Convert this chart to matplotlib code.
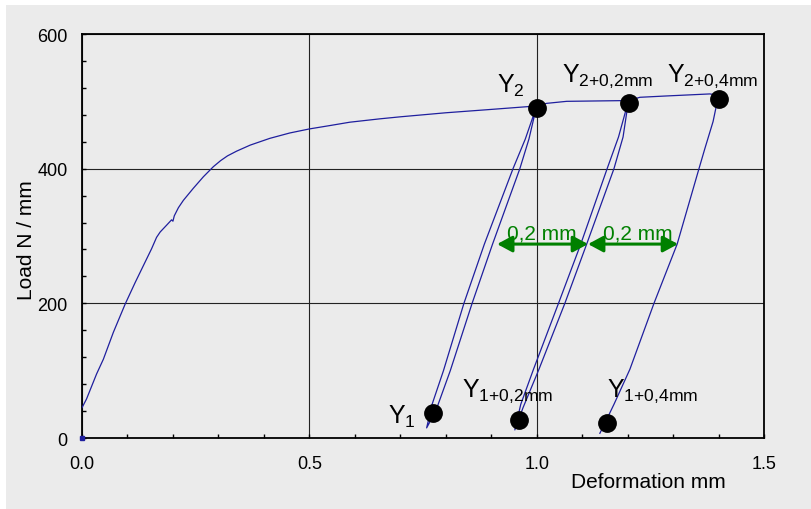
import matplotlib
matplotlib.use("Agg")
import matplotlib.pyplot as plt
from matplotlib.patches import Rectangle
from matplotlib.ticker import MultipleLocator, FormatStrFormatter

plt.rcParams['font.family'] = ['Liberation Sans', 'DejaVu Sans']

# loading curve up to the first yield point Y2
load_x = [0.000, 0.010, 0.032, 0.047, 0.069, 0.095, 0.117, 0.135, 0.153, 0.164, 0.172,
          0.186, 0.197, 0.200, 0.203, 0.212, 0.223, 0.245, 0.267, 0.289, 0.305, 0.320,
          0.340, 0.370, 0.413, 0.457, 0.500, 0.545, 0.589, 0.655, 0.700, 0.800, 0.900,
          0.978, 1.000]
load_y = [45, 58, 95, 117, 157, 199, 231, 256, 281, 298, 306,
          316, 324, 322, 330, 342, 353, 371, 388, 403, 412, 419,
          426, 435, 445, 453, 459, 464, 469, 474, 477, 483, 488,
          492, 493]

# first unload / reload loop at 1.0 mm
down1_x = [1.000, 0.975, 0.948, 0.885, 0.840, 0.795, 0.770, 0.758]
down1_y = [493, 444, 400, 288, 200, 100, 50, 15]
up1_x = [0.758, 0.778, 0.810, 0.858, 0.903, 0.963, 0.983, 1.000]
up1_y = [15, 40, 100, 200, 288, 400, 444, 493]

# plateau between the loops
plat1_x = [1.000, 1.022, 1.066, 1.183, 1.202]
plat1_y = [493, 497, 500, 501, 501]

# second loop at 1.2 mm
down2_x = [1.202, 1.180, 1.155, 1.097, 1.048, 0.993, 0.965, 0.952]
down2_y = [501, 447, 400, 288, 200, 102, 50, 12]
up2_x = [0.952, 0.970, 1.005, 1.062, 1.110, 1.170, 1.190, 1.202]
up2_y = [12, 45, 102, 200, 288, 400, 447, 501]

plat2_x = [1.202, 1.227, 1.286, 1.381, 1.400]
plat2_y = [501, 506, 508, 511, 509]

# final unloading
down3_x = [1.400, 1.388, 1.370, 1.357, 1.309, 1.258, 1.205, 1.170, 1.150, 1.139]
down3_y = [509, 470, 430, 400, 288, 200, 102, 50, 22, 7]

# marked points
pt_x = [1.000, 1.202, 1.400, 0.772, 0.962, 1.154]
pt_y = [490, 498, 503, 37, 26, 23]

pt_labels = [r'$\mathregular{Y_2}$', r'$\mathregular{Y_{2{+}0{,}2mm}}$',
             r'$\mathregular{Y_{2{+}0{,}4mm}}$', r'$\mathregular{Y_1}$',
             r'$\mathregular{Y_{1{+}0{,}2mm}}$', r'$\mathregular{Y_{1{+}0{,}4mm}}$']
lab_x = [0.913, 1.056, 1.287, 0.673, 0.836, 1.155]
lab_y = [514, 530, 530, 22, 62, 62]

# 0,2 mm offset arrows
arrow_x = [0.913, 1.113, 1.311]
arrow_y = 288
arrow_text = ['0,2 mm', '0,2 mm']
arrow_text_x = [1.012, 1.222]

bg = '#ebebeb'
fig = plt.figure(figsize=(8.11, 5.10), dpi=100)
fig.patch.set_facecolor(bg)
# thin white strips along the top and left edge
fig.patches.append(Rectangle((0, 1 - 6 / 510), 1, 6 / 510, transform=fig.transFigure,
                             facecolor='white', edgecolor='none', zorder=-10))
fig.patches.append(Rectangle((0, 0), 6 / 811, 1, transform=fig.transFigure,
                             facecolor='white', edgecolor='none', zorder=-10))
ax = fig.add_axes([82 / 811, 1 - 439 / 510, 682 / 811, 404 / 510])
ax.set_facecolor(bg)

blue = '#1f1f9e'
x = load_x + down1_x + up1_x + plat1_x + down2_x + up2_x + plat2_x + down3_x
y = load_y + down1_y + up1_y + plat1_y + down2_y + up2_y + plat2_y + down3_y
ax.plot(x, y, color=blue, lw=0.9, zorder=3)
ax.plot([0], [0], 's', color=blue, ms=2.5, clip_on=False, zorder=3)

ax.plot(pt_x, pt_y, 'o', color='black', ms=12.5, zorder=4)
for lx, ly, s in zip(lab_x, lab_y, pt_labels):
    ax.text(lx, ly, s, fontsize=18, ha='left', va='baseline', zorder=5)

green = '#008000'
for a, b in zip(arrow_x[:-1], arrow_x[1:]):
    ax.annotate('', xy=(b, arrow_y), xytext=(a, arrow_y),
                arrowprops=dict(arrowstyle='<|-|>,head_length=0.65,head_width=0.35',
                                color=green, lw=2.2, shrinkA=0, shrinkB=0,
                                mutation_scale=14), zorder=5)
for tx, s in zip(arrow_text_x, arrow_text):
    ax.text(tx, 296, s, color=green, fontsize=15, ha='center', va='baseline', zorder=5)

ax.set_xlim(0, 1.5)
ax.set_ylim(0, 600)
ax.xaxis.set_major_locator(MultipleLocator(0.5))
ax.xaxis.set_minor_locator(MultipleLocator(0.1))
ax.yaxis.set_major_locator(MultipleLocator(200))
ax.yaxis.set_minor_locator(MultipleLocator(40))
ax.xaxis.set_major_formatter(FormatStrFormatter('%.1f'))
ax.tick_params(which='both', direction='in', length=3, width=1, colors='black')
ax.tick_params(axis='x', which='major', labelsize=13, pad=12.5)
ax.tick_params(axis='y', which='major', labelsize=13, pad=10.5)
ax.grid(True, which='major', color='#222222', lw=0.8)
for sp in ax.spines.values():
    sp.set_linewidth(1.3)

ax.set_xlabel('Deformation mm', fontsize=15)
ax.xaxis.set_label_coords(0.83, -0.085)
ax.set_ylabel('Load N / mm', fontsize=15)
ax.yaxis.set_label_coords(-0.068, 0.493)

fig.savefig('out.png', dpi=100, facecolor=fig.get_facecolor())
